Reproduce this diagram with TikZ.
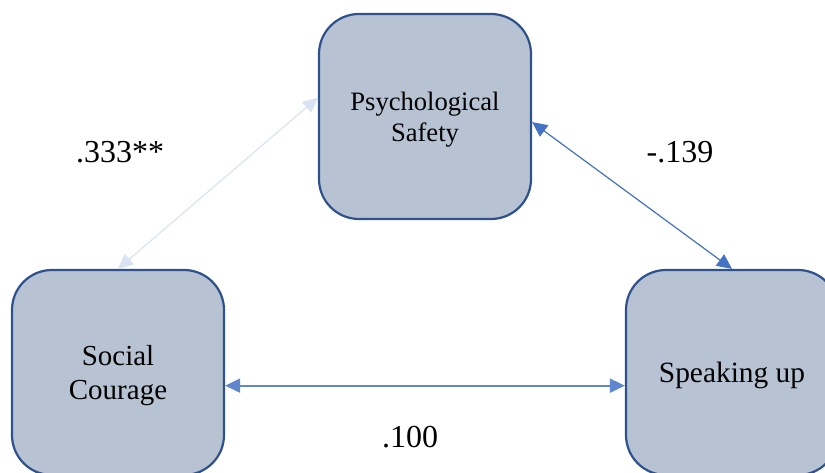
\documentclass[tikz,border=0pt]{standalone}
\usepackage{fontspec}
\setmainfont{Liberation Serif}
\usetikzlibrary{arrows.meta, positioning}

\definecolor{boxfill}{HTML}{B7C3D2}
\definecolor{boxline}{HTML}{2F528F}
\definecolor{linkblue}{HTML}{4472C4}
\definecolor{linklight}{HTML}{DAE3F3}

\begin{document}
\begin{tikzpicture}[
  x=0.5pt, y=0.5pt,
  box/.style={rectangle, rounded corners=20pt, draw=boxline, line width=1.1pt, fill=boxfill, minimum width=106pt, minimum height=102.5pt, align=center, inner sep=0pt, text depth=0pt},
  coef/.style={font=\fontsize{16}{18}\selectfont},
  link/.style={{Triangle[length=7.5pt,width=7pt]}-{Triangle[length=7.5pt,width=7pt]}, line width=0.6pt},
]
\useasboundingbox (0,0) rectangle (825,472);
\clip (0,0) rectangle (825,472);

\node[box, font=\fontsize{13.3}{15.3}\selectfont] (safety) at (425,355.5) {Psychological\\Safety};
\node[box, font=\fontsize{14.5}{17}\selectfont] (courage) at (118,99.5) {Social\\Courage};
\node[box, font=\fontsize{14.7}{17}\selectfont] (speak) at (732,99.5) {Speaking up};

\draw[link, draw=linklight, fill=linklight] (courage.north) -- (safety.170);
\draw[link, draw=linkblue, fill=linkblue] (safety.-3) -- (speak.north);
\draw[link, draw=linkblue!85, fill=linkblue, line width=0.9pt] (courage.-7) -- (speak.187);

\node[coef] (c1) at (120,320) {.333**};
\node[coef] (c2) at (680,320) {-.139};
\node[coef] (c3) at (410,35) {.100};
\end{tikzpicture}
\end{document}
